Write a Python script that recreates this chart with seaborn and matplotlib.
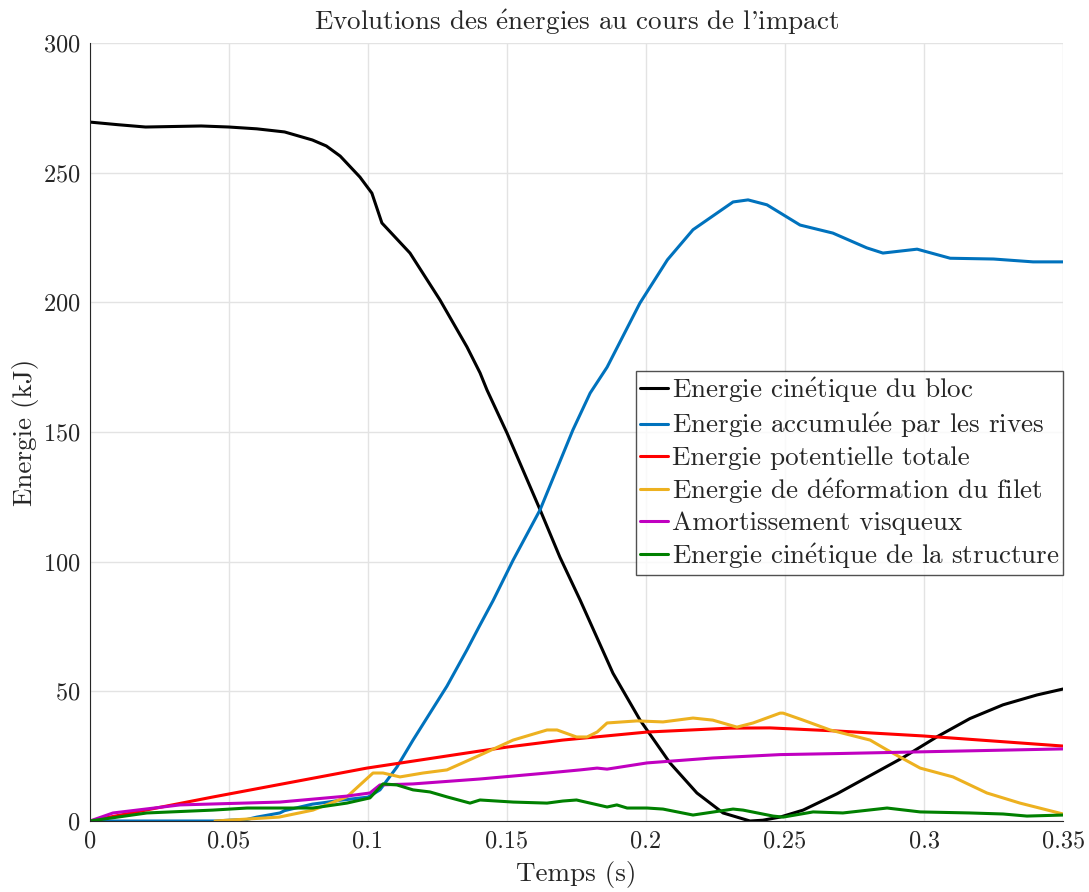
import numpy as np
import pandas as pd
import seaborn as sns
from matplotlib import pyplot as plt

# valeurs (temps en s, energie en kJ)
t_bloc = [0, 0.01, 0.02, 0.03, 0.04, 0.05, 0.06, 0.07, 0.08, 0.085, 0.09, 0.0971, 0.1014,
          0.105, 0.1151, 0.1259, 0.1356, 0.1403, 0.1428, 0.15, 0.1619, 0.169, 0.1763,
          0.1881, 0.1978, 0.2086, 0.2183, 0.2277, 0.2374, 0.2420, 0.2482, 0.2565,
          0.2687, 0.2806, 0.2925, 0.3047, 0.3165, 0.3284, 0.3406, 0.35]
e_bloc = [269.5, 268.5, 267.6, 267.8, 268, 267.6, 266.9, 265.7, 262.6, 260.3, 256.4, 248.3, 242.1,
          230.6, 219, 200.9, 182.8, 172.8, 166.2, 149.6, 120, 101.8, 85.2,
          57, 39, 22.4, 10.8, 3.1, 0, 0.3, 1.5, 4.2,
          10.5, 17.5, 24.5, 32.5, 39.5, 44.8, 48.6, 50.9]

t_rives = [0, 0.045, 0.05, 0.0565, 0.06, 0.0683, 0.07, 0.08, 0.085, 0.09, 0.1, 0.1043, 0.1104, 0.1162,
           0.123, 0.1284, 0.1356, 0.14, 0.145, 0.1522, 0.1619, 0.1737, 0.1799, 0.186, 0.1978,
           0.2077, 0.2169, 0.2313, 0.2367, 0.2435, 0.2554, 0.2672, 0.2794, 0.2852, 0.2975, 0.3094,
           0.325, 0.3392, 0.35]
e_rives = [0, 0, 0.3, 0.6, 1.5, 3.1, 4, 6.5, 7.2, 8, 9.2, 12, 20.8, 31.2,
           42.8, 52, 66, 75, 85, 100.6, 120, 150.8, 165, 175, 199.7,
           216.4, 228, 238.7, 239.5, 237.6, 229.8, 226.7, 221, 219, 220.5, 217,
           216.7, 215.6, 215.6]

t_pot = [0, 0.0442, 0.0996, 0.1403, 0.15, 0.17, 0.2004, 0.23, 0.2446, 0.2687, 0.2996, 0.35]
e_pot = [0, 9.25, 20.4, 27, 28.5, 31.2, 34.3, 35.8, 35.9, 34.7, 32.8, 28.9]

t_filet = [0.045, 0.068, 0.0802, 0.0924, 0.1018, 0.1054, 0.1115, 0.1198, 0.1284, 0.1403, 0.1522,
           0.1644, 0.168, 0.175, 0.1788, 0.1824, 0.186, 0.1968, 0.2061, 0.2169, 0.224, 0.2327,
           0.2385, 0.2482, 0.2493, 0.2565, 0.2662, 0.2806, 0.2867, 0.2986, 0.3104, 0.3226, 0.3345,
           0.35]
e_filet = [0, 1.5, 4.2, 9.3, 18.5, 18.5, 17, 18.5, 19.7, 25.4, 31.2,
           35.1, 35.1, 32.4, 32.4, 34.3, 37.8, 38.6, 38.2, 39.7, 38.9, 36.2,
           37.8, 41.6, 41.6, 38.9, 35.1, 31.2, 27.4, 20.4, 17, 10.8, 6.9,
           2.7]

t_visq = [0, 0.0083, 0.0324, 0.0683, 0.0924, 0.1007, 0.1043, 0.1162, 0.1403, 0.1644, 0.1763,
          0.1824, 0.186, 0.2004, 0.224, 0.2482, 0.2687, 0.35]
e_visq = [0, 3.1, 6.2, 7.3, 9.6, 10.8, 13.9, 14.3, 16.2, 18.5, 19.7,
          20.4, 20, 22.4, 24.3, 25.6, 26, 27.8]

t_struct = [0, 0.0205, 0.0442, 0.0565, 0.0802, 0.0924, 0.1007, 0.1054, 0.1104, 0.1162, 0.1223,
            0.1284, 0.1367, 0.1403, 0.1522, 0.1644, 0.1701, 0.175, 0.186, 0.1895, 0.1932, 0.2004,
            0.2061, 0.2169, 0.2313, 0.2349, 0.2457, 0.2493, 0.2601, 0.2708, 0.2867, 0.2986,
            0.3165, 0.3284, 0.337, 0.35]
e_struct = [0, 3.1, 4.2, 5, 5, 6.9, 8.9, 14.3, 13.9, 12, 11.2,
            9.3, 6.9, 8.1, 7.3, 6.9, 7.7, 8.1, 5.4, 6.2, 5, 5,
            4.6, 2.3, 4.6, 4.2, 1.9, 1.5, 3.5, 3.1, 5, 3.5,
            3.1, 2.7, 1.9, 2.3]

noms = ["Energie cinétique du bloc", "Energie accumulée par les rives", "Energie potentielle totale",
        "Energie de déformation du filet", "Amortissement visqueux", "Energie cinétique de la structure"]
couleurs = ["#000000", "#0072BD", "#FF0000", "#EDB120", "#C000C0", "#008000"]


def tex(s):
    # cmr10 n'a pas de glyphe "é" : on passe par l'accent mathtext
    return s.replace("é", r"$\mathrm{\acute{e}}$")


series = [(t_bloc, e_bloc), (t_rives, e_rives), (t_pot, e_pot),
          (t_filet, e_filet), (t_visq, e_visq), (t_struct, e_struct)]
df = pd.concat([pd.DataFrame({"t": t, "E": e, "serie": tex(nom)}) for (t, e), nom in zip(series, noms)])

sns.set_style("white")
plt.rcParams["font.family"] = ["cmr10", "DejaVu Serif"]
plt.rcParams["mathtext.fontset"] = "cm"
plt.rcParams["axes.formatter.use_mathtext"] = True

fig = plt.figure(figsize=(10.89, 8.92), dpi=100)
ax = fig.add_axes([0.0826, 0.0796, 0.8936, 0.8722])
sns.lineplot(data=df, x="t", y="E", hue="serie", hue_order=[tex(n) for n in noms], palette=couleurs,
             estimator=None, sort=False, linewidth=2.2, ax=ax)

ax.set_xlim(0, 0.35)
ax.set_ylim(0, 300)
ax.set_xticks(np.arange(0, 0.351, 0.05))
ax.set_xticklabels(["0", "0.05", "0.1", "0.15", "0.2", "0.25", "0.3", "0.35"])
ax.set_yticks(np.arange(0, 301, 50))
ax.grid(True, color="#e3e3e3", linewidth=1)
ax.tick_params(direction="in", length=9, width=1, labelsize=17.5, color="#555555",
               labelcolor="#262626", pad=7)
for s in ["top", "right"]:
    ax.spines[s].set_visible(False)
for s in ["left", "bottom"]:
    ax.spines[s].set_color("#262626")

ax.set_title(tex("Evolutions des énergies au cours de l'impact"), fontsize=19.5, pad=9)
ax.set_xlabel("Temps (s)", fontsize=19.5, labelpad=6)
ax.set_ylabel("Energie (kJ)", fontsize=19.5, labelpad=3)

ax.legend(loc="upper right", bbox_to_anchor=(1.0, 0.578), fontsize=19.5, frameon=True,
          fancybox=False, edgecolor="#262626", handlelength=1.0, handletextpad=0.15,
          borderpad=0.15, labelspacing=0.22, borderaxespad=0)

fig.savefig("out.png", dpi=100)
